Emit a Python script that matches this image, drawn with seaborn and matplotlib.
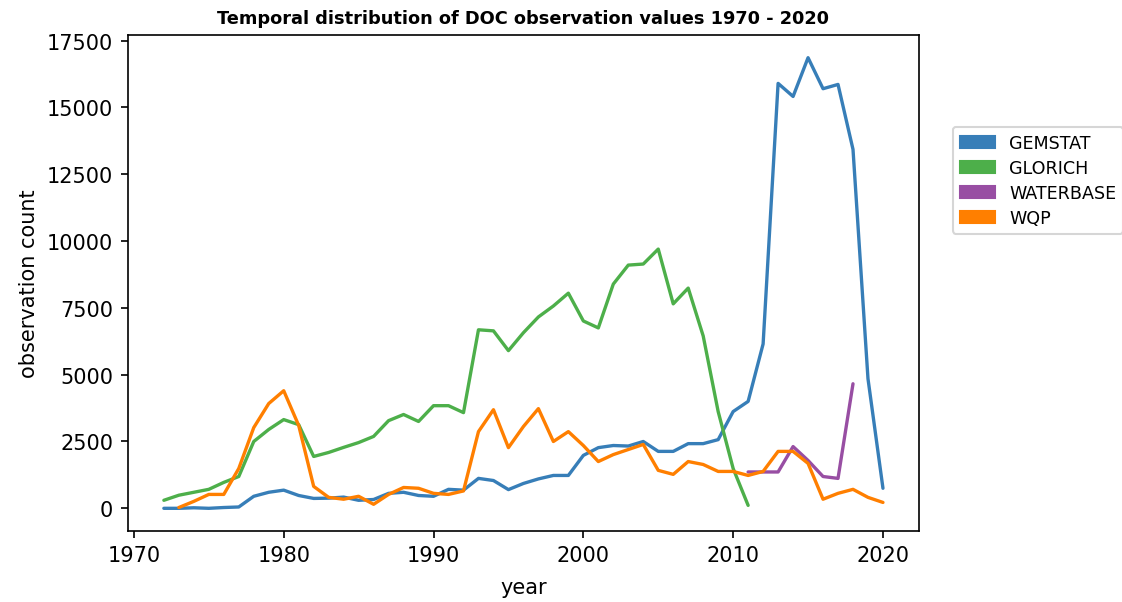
import matplotlib
matplotlib.use("Agg")
import matplotlib.pyplot as plt
from matplotlib.patches import Patch
import seaborn as sns
import pandas as pd

gemstat_years = list(range(1972, 2021))
gemstat = [0, 0, 20, 0, 30, 50, 450, 600, 680, 480, 370, 380, 420, 300, 330, 560, 600, 480, 450,
           710, 680, 1120, 1040, 700, 930, 1100, 1230, 1230, 1980, 2270, 2350, 2330, 2500, 2130,
           2130, 2420, 2420, 2570, 3620, 4000, 6150, 15900, 15410, 16860, 15700, 15860, 13430,
           4850, 750]

glorich_years = list(range(1972, 2012))
glorich = [300, 490, 600, 710, 970, 1190, 2500, 2950, 3320, 3130, 1940, 2090, 2280, 2460, 2690,
           3280, 3510, 3250, 3840, 3840, 3580, 6680, 6640, 5900, 6570, 7160, 7570, 8050, 7010,
           6750, 8390, 9100, 9140, 9700, 7650, 8240, 6450, 3620, 1490, 110]

waterbase_years = list(range(2011, 2019))
waterbase = [1360, 1360, 1360, 2310, 1790, 1190, 1120, 4660]

wqp_years = list(range(1973, 2021))
wqp = [30, 260, 520, 520, 1490, 3020, 3920, 4400, 3100, 820, 410, 340, 450, 150, 520, 780, 750,
       560, 520, 650, 2870, 3690, 2270, 3060, 3730, 2500, 2870, 2350, 1750, 2010, 2200, 2390,
       1420, 1270, 1750, 1640, 1380, 1380, 1230, 1380, 2130, 2130, 1680, 340, 560, 710, 410, 220]

sources = ["GEMSTAT", "GLORICH", "WATERBASE", "WQP"]
colors = ["#377eb8", "#4daf4a", "#984ea3", "#ff7f00"]

frames = []
for name, yrs, vals in zip(sources,
                           [gemstat_years, glorich_years, waterbase_years, wqp_years],
                           [gemstat, glorich, waterbase, wqp]):
    frames.append(pd.DataFrame({"year": yrs, "count": vals, "source": name}))
df = pd.concat(frames, ignore_index=True)

sns.set_style("white")
plt.rcParams["font.family"] = ["DejaVu Sans"]
plt.rcParams["text.color"] = "black"
plt.rcParams["axes.labelcolor"] = "black"
plt.rcParams["xtick.color"] = "black"
plt.rcParams["ytick.color"] = "black"

fig = plt.figure(figsize=(7.48, 4.02), dpi=150)
ax = fig.add_axes([0.114, 0.118, 0.705, 0.822])

palette = dict(zip(sources, colors))
sns.lineplot(data=df, x="year", y="count", hue="source", palette=palette,
             linewidth=1.6, ax=ax, legend=False)

for s in ax.spines.values():
    s.set_color("black")
    s.set_linewidth(0.8)
ax.tick_params(axis="both", which="both", bottom=True, left=True, length=3.5,
               width=0.8, color="black", labelcolor="black", labelsize=10)

ax.set_xticks([1970, 1980, 1990, 2000, 2010, 2020])
ax.set_yticks([0, 2500, 5000, 7500, 10000, 12500, 15000, 17500])
ax.set_xlabel("year", fontsize=10, labelpad=5.5)
ax.set_ylabel("observation count", fontsize=10)
ax.set_title("Temporal distribution of DOC observation values 1970 - 2020",
             fontsize=8.5, fontweight="bold")

handles = [Patch(facecolor=c, edgecolor=c, label=n) for n, c in zip(sources, colors)]
ax.legend(handles=handles, loc="upper left", bbox_to_anchor=(1.043, 0.815),
          borderaxespad=0, fontsize=8.4, frameon=True, labelspacing=0.4)

fig.savefig("out.png", dpi=150)
